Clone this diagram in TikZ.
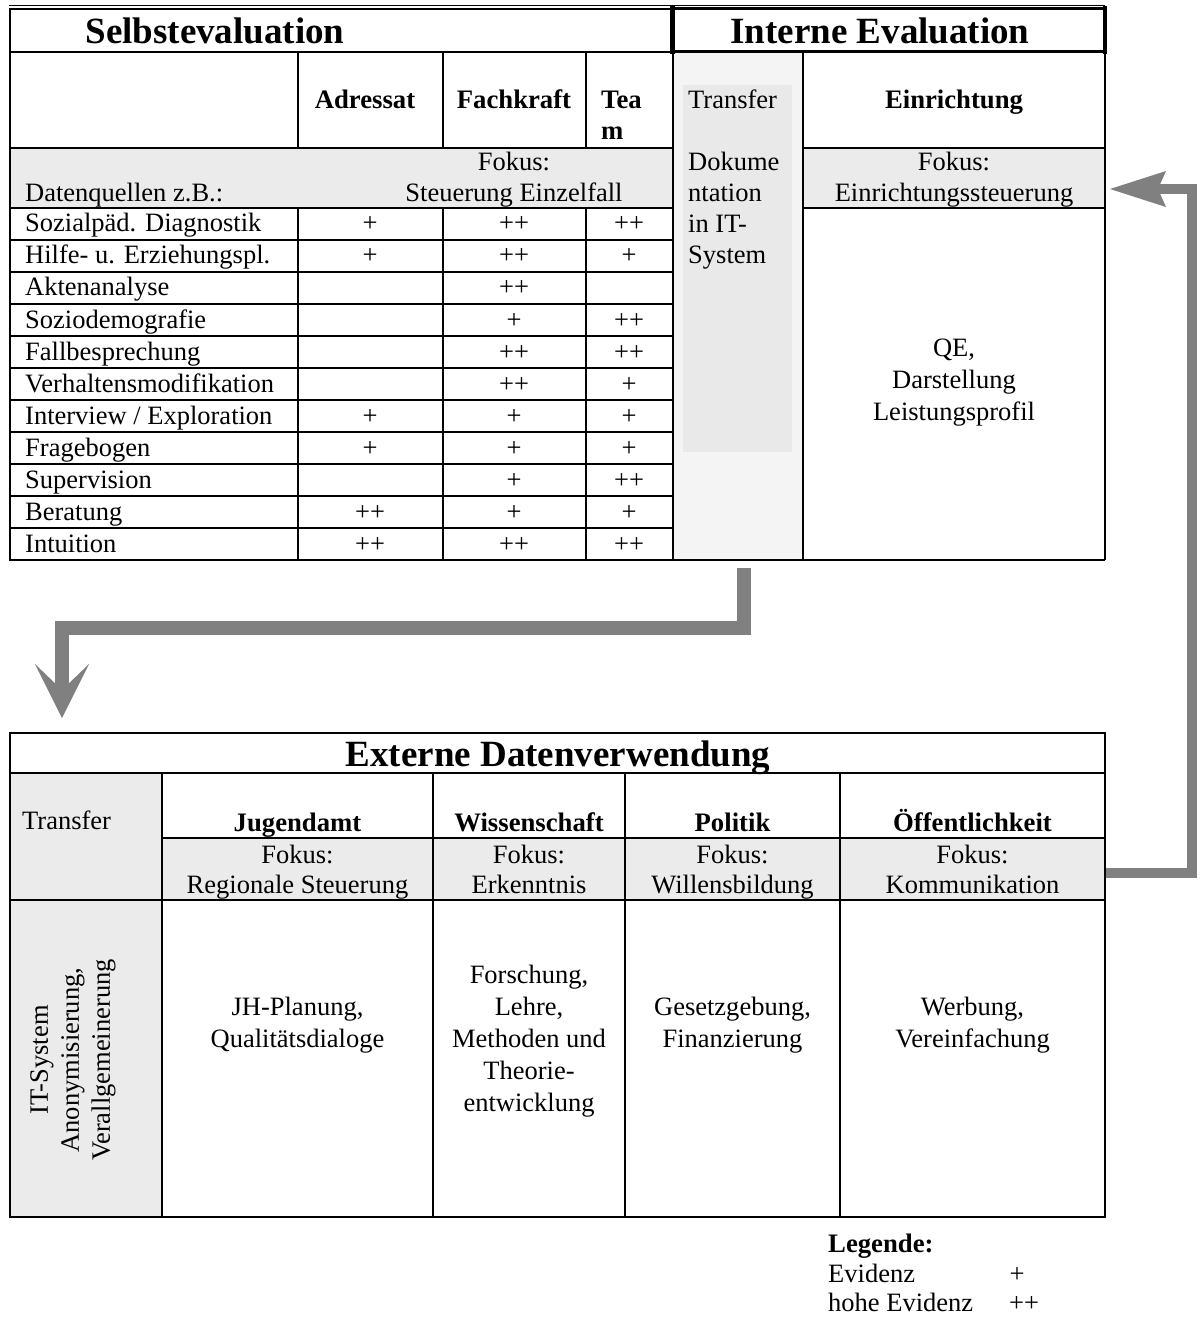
\documentclass[tikz,border=0pt]{standalone}
\usepackage{fontspec}
\setmainfont{Liberation Serif}
\usetikzlibrary{calc}
\definecolor{fok}{HTML}{EBEBEB}
\definecolor{tcol}{HTML}{F4F4F4}
\definecolor{tin}{HTML}{E9E9E9}
\definecolor{arr}{HTML}{808080}
\begin{document}
\begin{tikzpicture}[x=1pt,y=-1pt,
 tl/.style={line width=2.4pt},
 txt/.style={font=\fontsize{26.5}{31}\selectfont, inner sep=0pt},
 bx/.style={inner sep=0pt, font=\fontsize{26.7}{31}\selectfont\bfseries},
 ttl/.style={inner sep=0pt, font=\fontsize{37}{40}\selectfont\bfseries},
 arrline/.style={draw=arr, line join=miter},
]
\useasboundingbox (0,0) rectangle (1199,1321);

% ---------- top table fills ----------
\fill[fok] (10,148) rectangle (673,208);
\fill[tcol] (673,52) rectangle (803,560);
\fill[tin] (683,85) rectangle (792,452);
\fill[fok] (803,148) rectangle (1105,208);

% ---------- top table lines ----------
\draw[line width=1.5pt] (9,5.5) -- (1105,5.5);
\draw[tl] (10,9) rectangle (673,560);
\draw[tl] (10,52) -- (673,52);
\draw[tl] (10,148) -- (673,148);
\draw[tl] (10,208) -- (673,208);
\foreach \y in {240,272,304,336,368,400,432,464,496,528}
  \draw[tl] (10,\y) -- (673,\y);
\foreach \x in {298,443,586}{
  \draw[tl] (\x,52) -- (\x,148);
  \draw[tl] (\x,208) -- (\x,560);
}
\draw[tl] (803,52) -- (803,560);
\draw[tl] (673,560) -- (1105,560);
\draw[tl] (1105,52) -- (1105,560);
\draw[tl] (803,148) -- (1105,148);
\draw[tl] (803,208) -- (1105,208);
% Interne Evaluation box (thick)
\draw[line width=3pt] (673,9) -- (1105,9);
\draw[line width=3pt] (673,52) -- (1105,52);
\draw[line width=5pt] (672,6) -- (672,54);
\draw[line width=4.5pt] (1105,6) -- (1105,54);

% ---------- top table texts ----------
\node[ttl, anchor=base] (selbst) at (215,44) {Selbstevaluation};
\node[ttl, anchor=base] (intern) at (880,44) {Interne Evaluation};
\node[bx, anchor=base] (hAdr) at (365,109) {Adressat};
\node[bx, anchor=base] (hFach) at (514,109) {Fachkraft};
\node[bx, anchor=base west] (hTea) at (601,109) {Tea};
\node[bx, anchor=base west] (hTm) at (601,140) {m};
\node[txt, anchor=base] (fok1) at (514,171) {Fokus:};
\node[txt, anchor=base] (fok2) at (514,202) {Steuerung Einzelfall};
\node[txt, anchor=base west] (dq) at (25,202) {Datenquellen z.B.:};

\foreach \lab/\va/\vb/\vc [count=\i from 0] in {
  Sozialpäd. Diagnostik/+/++/++,
  Hilfe- u. Erziehungspl./+/++/+,
  Aktenanalyse/{}/++/{},
  Soziodemografie/{}/+/++,
  Fallbesprechung/{}/++/++,
  Verhaltensmodifikation/{}/++/+,
  {Interview / Exploration}/+/+/+,
  Fragebogen/+/+/+,
  Supervision/{}/+/++,
  Beratung/++/+/+,
  Intuition/++/++/++}{
  \pgfmathsetmacro{\yb}{232+32*\i}
  \node[txt, anchor=base west] (r\i-l) at (25,\yb) {\lab};
  \node[txt, anchor=base] (r\i-a) at (370,\yb) {\va};
  \node[txt, anchor=base] (r\i-b) at (514,\yb) {\vb};
  \node[txt, anchor=base] (r\i-c) at (629,\yb) {\vc};
}

% transfer column
\node[txt, anchor=base west] (tr1) at (688,109) {Transfer};
\node[txt, anchor=base west] (tr2) at (688,171) {Dokume};
\node[txt, anchor=base west] (tr3) at (688,202) {ntation};
\node[txt, anchor=base west] (tr4) at (688,233) {in IT-};
\node[txt, anchor=base west] (tr5) at (688,264) {System};

% Einrichtung column
\node[bx, anchor=base] (einr) at (954,109) {Einrichtung};
\node[txt, anchor=base] (ef1) at (954,171) {Fokus:};
\node[txt, anchor=base] (ef2) at (954,202) {Einrichtungssteuerung};
\node[txt, anchor=base] (qe1) at (954,356) {QE,};
\node[txt, anchor=base] (qe2) at (954,388) {Darstellung};
\node[txt, anchor=base] (qe3) at (954,420) {Leistungsprofil};

% ---------- arrows ----------
\coordinate (a1s) at (744,568);
\coordinate (a1k1) at (744,628);
\coordinate (a1k2) at (62,628);
\coordinate (a1e) at (62,695);
\coordinate (a1tip) at (62,718);
\draw[arrline, line width=14pt] (a1s) -- (a1k1) -- (a1k2) -- (a1e);
\fill[arr] (a1tip) -- (35,664) -- (62,690) -- (89,664) -- cycle;

\coordinate (a2s) at (1105,873);
\coordinate (a2k1) at (1192,873);
\coordinate (a2k2) at (1192,189);
\coordinate (a2e) at (1152,189);
\coordinate (a2tip) at (1110,189);
\draw[arrline, line width=10pt] (a2s) -- (a2k1) -- (a2k2) -- (a2e);
\fill[arr] (a2tip) -- (1166,171) -- (1158,189) -- (1166,207) -- cycle;

% ---------- bottom table ----------
\fill[fok] (10,773) rectangle (162,1217);
\fill[fok] (162,838) rectangle (1105,900);
\draw[tl] (10,733) rectangle (1105,1217);
\draw[tl] (10,773) -- (1105,773);
\draw[tl] (162,838) -- (1105,838);
\draw[tl] (10,900) -- (1105,900);
\foreach \x in {162,433,625,840}
  \draw[tl] (\x,773) -- (\x,1217);

\node[ttl, anchor=base] (ext) at (558,766) {Externe Datenverwendung};
\node[txt, anchor=base west] (btr) at (22,829) {Transfer};
\node[bx, anchor=base] (hJ) at (297.5,831) {Jugendamt};
\node[bx, anchor=base] (hW) at (529,831) {Wissenschaft};
\node[bx, anchor=base] (hP) at (732.5,831) {Politik};
\node[bx, anchor=base] (hO) at (972.5,831) {Öffentlichkeit};

\foreach \cx/\t/\n in {297.5/Regionale Steuerung/J, 529/Erkenntnis/W, 732.5/Willensbildung/P, 972.5/Kommunikation/O}{
  \node[txt, anchor=base] (f\n1) at (\cx,863) {Fokus:};
  \node[txt, anchor=base] (f\n2) at (\cx,893) {\t};
}

\node[txt, anchor=base] (bj1) at (297.5,1015) {JH-Planung,};
\node[txt, anchor=base] (bj2) at (297.5,1047) {Qualitätsdialoge};
\node[txt, anchor=base] (bw1) at (529,983) {Forschung,};
\node[txt, anchor=base] (bw2) at (529,1015) {Lehre,};
\node[txt, anchor=base] (bw3) at (529,1047) {Methoden und};
\node[txt, anchor=base] (bw4) at (529,1079) {Theorie-};
\node[txt, anchor=base] (bw5) at (529,1111) {entwicklung};
\node[txt, anchor=base] (bp1) at (732.5,1015) {Gesetzgebung,};
\node[txt, anchor=base] (bp2) at (732.5,1047) {Finanzierung};
\node[txt, anchor=base] (bo1) at (972.5,1015) {Werbung,};
\node[txt, anchor=base] (bo2) at (972.5,1047) {Vereinfachung};

\node[txt, rotate=90, align=center] (rot) at (73,1060)
  {IT-System\\Anonymisierung,\\Verallgemeinerung};

% ---------- legend ----------
\node[bx, anchor=base west] (leg) at (828,1252) {Legende:};
\node[txt, anchor=base west] (ev1) at (828,1282) {Evidenz};
\node[txt, anchor=base] (ev1s) at (1017,1282) {+};
\node[txt, anchor=base west] (ev2) at (828,1311) {hohe Evidenz};
\node[txt, anchor=base] (ev2s) at (1024,1311) {++};
\end{tikzpicture}
\end{document}
